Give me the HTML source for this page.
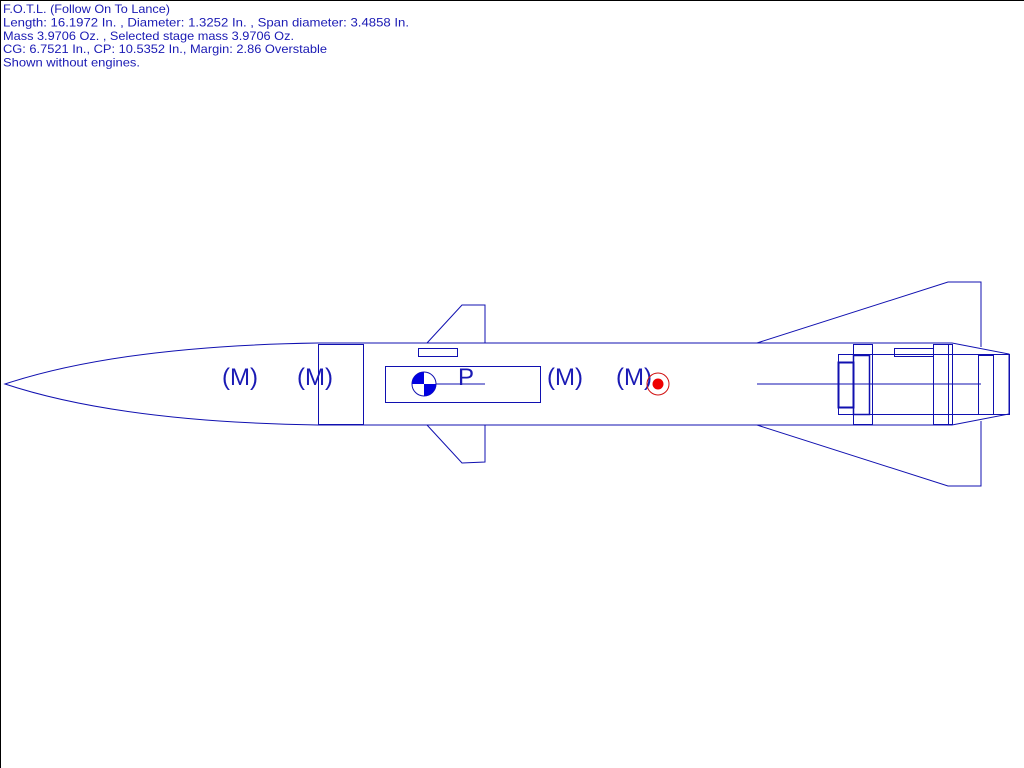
<!DOCTYPE html>
<html><head><style>body{margin:0;background:#fff}svg{display:block}</style></head><body>
<svg width="1024" height="768" xmlns="http://www.w3.org/2000/svg" font-family="Liberation Sans, sans-serif">
<rect x="0.5" y="0.5" width="1030" height="780" fill="#fff" stroke="#000"/>
<g fill="#1a1ab4" font-size="12">
<text x="3" y="13" textLength="167" lengthAdjust="spacingAndGlyphs">F.O.T.L. (Follow On To Lance)</text>
<text x="3" y="26.5" textLength="406" lengthAdjust="spacingAndGlyphs">Length: 16.1972 In. , Diameter: 1.3252 In. , Span diameter: 3.4858 In.</text>
<text x="3" y="40" textLength="291" lengthAdjust="spacingAndGlyphs">Mass 3.9706 Oz. , Selected stage mass 3.9706 Oz.</text>
<text x="3" y="53" textLength="324" lengthAdjust="spacingAndGlyphs">CG: 6.7521 In., CP: 10.5352 In., Margin: 2.86 Overstable</text>
<text x="3" y="66.5" textLength="137" lengthAdjust="spacingAndGlyphs">Shown without engines.</text>
</g>
<g fill="none" stroke="#1010b0" stroke-width="1">
<path d="M5,384 Q120,346 318,343 L952,343 L1009,354 L1009,414 L952,425 L318,425 Q120,422 5,384 Z"/>
<rect x="318.5" y="344.5" width="45" height="80"/>
<path d="M427,343 L462,305 L485,305 L485,343 M427,425 L462,463 L485,462 L485,425"/>
<rect x="418.5" y="348.5" width="39" height="8"/>
<rect x="385.5" y="366.5" width="155" height="36"/>
<line x1="424" y1="384" x2="485" y2="384"/>
<path d="M757,343 L948,282 L981,282 L981,347 M757,425 L948,486 L981,486 L981,421"/>
<line x1="757" y1="384" x2="981" y2="384"/>
<rect x="838.5" y="354.5" width="171" height="60"/>
<rect x="838.5" y="362.5" width="15" height="45" stroke-width="2"/>
<rect x="853.5" y="344.5" width="19" height="80"/>
<rect x="853.5" y="355.5" width="16" height="59" stroke-width="1.5"/>
<rect x="933.5" y="344.5" width="19" height="80"/>
<line x1="948.5" y1="344" x2="948.5" y2="425"/>
<rect x="978.5" y="355.5" width="15" height="59"/>
<rect x="894.5" y="348.5" width="39" height="8"/>
</g>
<g fill="#1a1ab4" font-size="24">
<text x="222" y="385">(M)</text>
<text x="297" y="385">(M)</text>
<text x="547" y="385">(M)</text>
<text x="616" y="385">(M)</text>
<text x="458" y="385">P</text>
</g>
<circle cx="424" cy="384" r="12" fill="#fff" stroke="#1010b0"/>
<path d="M424,384 L424,372 A12,12 0 0 0 412,384 Z M424,384 L436,384 A12,12 0 0 1 424,396 Z" fill="#0000e0"/>
<circle cx="658" cy="384" r="11" fill="none" stroke="#d01010"/>
<circle cx="658" cy="384" r="5.5" fill="#ee0000"/>
</svg>
</body></html>
